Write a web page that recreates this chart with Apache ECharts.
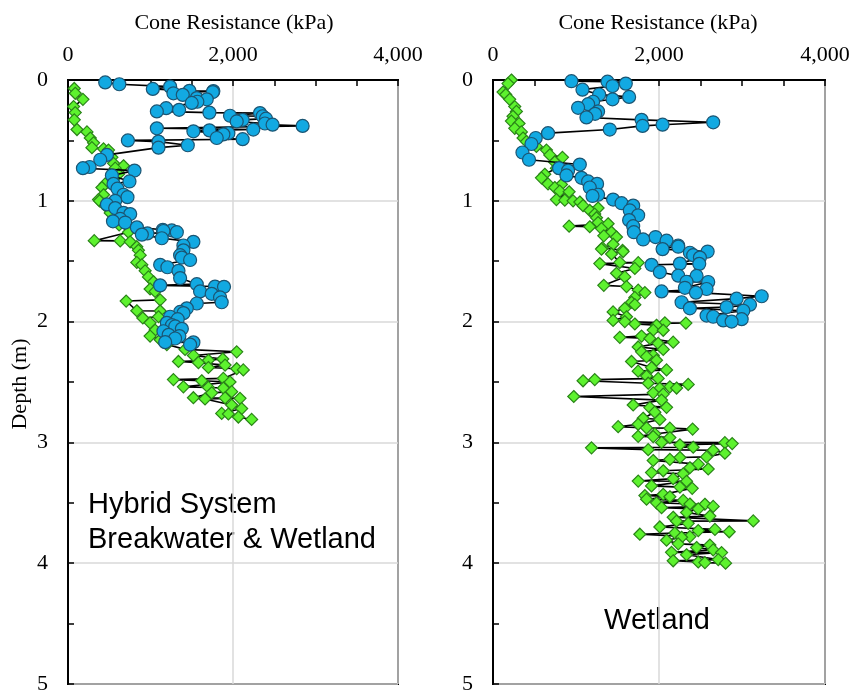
<!DOCTYPE html>
<html>
<head>
<meta charset="utf-8">
<script src="https://cdn.jsdelivr.net/npm/echarts@6/dist/echarts.min.js"></script>
<style>html,body{margin:0;padding:0;background:#fff;}#c{width:853px;height:695px;}</style>
</head>
<body>
<div id="c"></div>
<script>
// ---- data: [cone resistance kPa, depth m] ----
const xTicks = [0, 2000, 4000];
const depthTicks = [0, 1, 2, 3, 4, 5];
const hybridBlue = [
[451,0.02],[622,0.035],[1238,0.055],[1028,0.074],[1472,0.09],[1762,0.092],[1755,0.10],[1278,0.11],[1391,0.123],[1561,0.15],[1682,0.16],[1568,0.18],[1500,0.19],
[1190,0.233],[1347,0.247],[1077,0.26],[1714,0.27],[2327,0.274],[1964,0.296],[2360,0.30],[2400,0.32],[2117,0.33],[2045,0.343],[2387,0.36],[2480,0.37],[2844,0.38],
[1077,0.40],[2246,0.41],[1714,0.417],[1520,0.425],[1944,0.44],[1883,0.45],[1803,0.48],[2117,0.49],[726,0.50],[1097,0.51],[1452,0.54],[1097,0.56],
[472,0.62],[391,0.66],[262,0.72],[181,0.73],[806,0.75],[532,0.79],[745,0.84],[552,0.86],[600,0.90],[673,0.95],[721,0.97],[572,1.0],[472,1.03],[572,1.06],
[673,1.10],[754,1.11],[633,1.15],[545,1.17],[693,1.18],[835,1.22],[1149,1.24],[1258,1.245],[1157,1.25],[1319,1.26],[963,1.27],[895,1.28],[1137,1.31],[1520,1.34],
[1399,1.37],[1399,1.41],[1359,1.45],[1379,1.47],[1480,1.49],[1117,1.53],[1205,1.55],[1339,1.58],[1359,1.64],[1561,1.69],[1117,1.70],[1782,1.71],[1891,1.712],
[1601,1.75],[1742,1.77],[1843,1.80],[1863,1.84],[1561,1.85],[1440,1.89],[1359,1.92],[1400,1.93],[1238,1.96],[1330,1.98],[1198,2.01],[1260,2.03],[1300,2.04],
[1380,2.06],[1157,2.08],[1220,2.11],[1350,2.12],[1298,2.14],[1178,2.17],[1520,2.172],[1480,2.19]
];
const hybridGreen = [
[76,0.07],[88,0.11],[181,0.16],[68,0.22],[88,0.27],[76,0.33],[109,0.41],[230,0.43],[270,0.48],[310,0.52],[290,0.56],[431,0.57],[491,0.58],[532,0.64],[552,0.69],
[673,0.71],[572,0.73],[612,0.78],[451,0.86],[411,0.89],[431,0.95],[370,0.99],[382,1.0],[450,1.04],[512,1.10],[560,1.15],[620,1.20],[733,1.26],[318,1.33],[633,1.332],
[754,1.34],[834,1.38],[854,1.41],[875,1.45],[834,1.51],[895,1.53],[935,1.58],[975,1.63],[1036,1.67],[995,1.73],[1056,1.75],[1117,1.82],[705,1.83],[834,1.91],
[1117,1.912],[1097,1.96],[907,1.97],[995,2.01],[1056,2.07],[995,2.12],[1117,2.15],[1198,2.19],[1419,2.23],[2045,2.25],[1520,2.28],[1876,2.31],[1702,2.32],[1339,2.33],
[1581,2.34],[1904,2.36],[1702,2.38],[2045,2.39],[2125,2.40],[1883,2.47],[1278,2.48],[1621,2.49],[1964,2.50],[1399,2.54],[1702,2.545],[1883,2.55],[1984,2.58],
[1742,2.59],[1520,2.63],[1904,2.632],[2085,2.635],[1661,2.64],[1984,2.69],[2105,2.72],[1863,2.76],[1944,2.765],[2065,2.79],[2226,2.81]
];
const wetlandBlue = [
[945,0.01],[1380,0.014],[1600,0.03],[1440,0.05],[1078,0.08],[1279,0.12],[1640,0.14],[1440,0.16],[1206,0.18],[1146,0.20],[1025,0.23],[1266,0.26],[1230,0.28],[1126,0.31],
[1790,0.33],[2653,0.35],[2043,0.37],[1802,0.38],[1407,0.41],[663,0.44],[515,0.48],[463,0.53],[355,0.60],[434,0.66],[1046,0.70],[796,0.73],[905,0.75],[885,0.79],
[1066,0.81],[1146,0.84],[1254,0.86],[1166,0.89],[1266,0.95],[1199,0.96],[1447,0.99],[1549,1.02],[1689,1.04],[1648,1.08],[1749,1.12],[1640,1.16],[1689,1.21],
[1697,1.26],[1958,1.30],[1809,1.32],[2091,1.33],[2231,1.37],[2232,1.38],[2043,1.40],[2586,1.42],[2372,1.43],[2412,1.45],[2493,1.47],[2252,1.52],[2485,1.522],
[1910,1.53],[2010,1.59],[2232,1.62],[2453,1.622],[2332,1.67],[2593,1.672],[2312,1.72],[2573,1.73],[2031,1.75],[2445,1.76],[3237,1.79],[2935,1.81],[2272,1.84],
[3096,1.86],[2815,1.88],[2372,1.89],[3016,1.91],[2573,1.95],[2653,1.96],[2996,1.98],[2774,1.99],[2875,2.0]
];
const wetlandGreen = [
[222,0.0],[181,0.03],[121,0.10],[153,0.12],[201,0.16],[262,0.22],[282,0.26],[241,0.30],[222,0.34],[314,0.36],[262,0.40],[342,0.43],[362,0.48],[403,0.51],[523,0.55],
[644,0.58],[684,0.62],[837,0.64],[744,0.68],[764,0.73],[624,0.78],[584,0.81],[663,0.86],[825,0.865],[744,0.89],[804,0.92],[917,0.925],[764,0.99],[865,0.995],[965,1.0],
[1046,1.01],[1085,1.04],[1266,1.06],[1166,1.08],[1226,1.11],[1247,1.14],[1266,1.18],[1387,1.19],[917,1.21],[1166,1.215],[1307,1.23],[1428,1.26],[1335,1.29],[1488,1.30],
[1447,1.36],[1319,1.39],[1307,1.40],[1561,1.41],[1568,1.42],[1428,1.44],[1528,1.51],[1750,1.512],[1287,1.52],[1709,1.56],[1488,1.60],[1588,1.63],[1335,1.70],[1609,1.71],
[1750,1.74],[1830,1.76],[1709,1.80],[1669,1.84],[1709,1.86],[1588,1.89],[1447,1.92],[1609,1.96],
[1447,1.99],[1588,2.0],[2071,2.01],[2324,2.012],[1709,2.02],[1970,2.03],[1930,2.07],[2051,2.072],[1790,2.12],[1528,2.13],[1890,2.14],[2171,2.17],[1990,2.18],[1749,2.21],
[2051,2.23],[1790,2.25],[1930,2.28],[1850,2.29],[1970,2.32],[1669,2.33],[1910,2.38],[2091,2.40],[1749,2.41],[1850,2.45],[1990,2.47],[1226,2.48],[1085,2.49],[1870,2.51],
[2352,2.52],[2131,2.54],[2212,2.55],[2010,2.552],[1930,2.59],[2051,2.60],[973,2.62],[2031,2.65],[1689,2.69],[2091,2.71],[1890,2.712],[1950,2.75],[1809,2.80],[2010,2.81],
[1749,2.85],[1508,2.87],[1850,2.88],[2131,2.882],[2405,2.89],[1950,2.93],[1749,2.95],[1930,2.952],[2131,2.96],
[2031,3.00],[2794,3.002],[2882,3.01],[2252,3.02],[2412,3.04],[1187,3.045],[1870,3.06],[2653,3.065],[2794,3.09],[2573,3.12],[2252,3.125],[2131,3.14],[1930,3.15],[2473,3.18],
[2372,3.21],[2593,3.22],[2051,3.235],[1910,3.25],[2292,3.26],[2171,3.30],[1750,3.32],[2332,3.322],[1910,3.36],[2252,3.37],[2400,3.38],[2051,3.43],[1830,3.44],[2131,3.45],
[1850,3.47],[2292,3.48],[1970,3.50],[2372,3.51],[2553,3.512],[2653,3.53],[2031,3.54],[2473,3.55],[2332,3.58],[2613,3.61],[2171,3.62],[3136,3.65],[2212,3.652],[2352,3.67],
[2010,3.70],[2674,3.72],[2473,3.73],[2846,3.74],[2191,3.75],[1769,3.76],[2372,3.78],[2272,3.785],[2091,3.81],[2232,3.84],[2613,3.85],[2453,3.87],[2653,3.89],
[2151,3.91],[2754,3.912],[2332,3.93],[2714,3.97],[2171,3.98],[2473,3.99],[2553,3.995],[2802,4.0]
];
const xTitle = 'Cone Resistance (kPa)';
const yTitle = 'Depth (m)';

const byDepth = a => a.slice().sort((p, q) => p[1] - q[1]);
const SERIF = '"Liberation Serif","Times New Roman",serif';
const SANS = '"Liberation Sans",Arial,sans-serif';

function xAxis(i) {
  return {
    gridIndex: i, type: 'value', position: 'top', min: 0, max: 4000, interval: 2000,
    axisLine: { show: true, onZero: false, lineStyle: { color: '#000', width: 2 } },
    axisTick: { show: true, inside: true, length: 6, lineStyle: { color: '#000', width: 1.5 } },
    minorTick: { show: true, splitNumber: 4, length: 6, lineStyle: { color: '#000', width: 1.5 } },
    axisLabel: { color: '#000', fontFamily: SERIF, fontSize: 22, margin: 14,
      formatter: v => xTicks.indexOf(v) >= 0 ? v.toLocaleString('en-US') : '' },
    splitLine: { show: true, lineStyle: { color: '#d9d9d9', width: 1.5 } }
  };
}
function yAxis(i) {
  return {
    gridIndex: i, type: 'value', inverse: true, min: 0, max: 5, interval: 1,
    axisLine: { show: true, onZero: false, lineStyle: { color: '#000', width: 2 } },
    axisTick: { show: true, inside: true, length: 6, lineStyle: { color: '#000', width: 1.5 } },
    minorTick: { show: true, splitNumber: 2, length: 6, lineStyle: { color: '#000', width: 1.5 } },
    axisLabel: { color: '#000', fontFamily: SERIF, fontSize: 22, margin: 20,
      formatter: v => depthTicks.indexOf(v) >= 0 ? String(v) : '' },
    splitLine: { show: true, lineStyle: { color: '#d9d9d9', width: 1.5 } }
  };
}
const blueItem = { color: '#12A9E2', borderColor: '#1B5573', borderWidth: 1.2 };
const greenItem = { color: '#5DF22E', borderColor: '#2A8418', borderWidth: 1.2 };
function ser(data, i, sym, item, z) {
  return {
    type: 'line', xAxisIndex: i, yAxisIndex: i, data: byDepth(data),
    symbol: sym, symbolSize: sym === 'circle' ? 13 : 12, showAllSymbol: true,
    lineStyle: { color: '#000', width: 1.6 }, itemStyle: item, z: z,
    animation: false, silent: true, clip: false
  };
}
const chart = echarts.init(document.getElementById('c'), null, { renderer: 'canvas' });
chart.setOption({
  backgroundColor: '#fff',
  animation: false,
  grid: [
    { left: 68, top: 80, width: 330, height: 608, show: true, borderColor: '#000', borderWidth: 2, backgroundColor: 'transparent' },
    { left: 493, top: 80, width: 332, height: 608, show: true, borderColor: '#000', borderWidth: 2, backgroundColor: 'transparent' }
  ],
  xAxis: [xAxis(0), xAxis(1)],
  yAxis: [yAxis(0), yAxis(1)],
  series: [
    ser(hybridGreen, 0, 'diamond', greenItem, 2),
    ser(hybridBlue, 0, 'circle', blueItem, 3),
    ser(wetlandGreen, 1, 'diamond', greenItem, 2),
    ser(wetlandBlue, 1, 'circle', blueItem, 3)
  ],
  graphic: [
    { type: 'text', x: 234, y: 23, style: { text: xTitle, font: '22px ' + SERIF, fill: '#000', textAlign: 'center', textVerticalAlign: 'middle' } },
    { type: 'text', x: 658, y: 23, style: { text: xTitle, font: '22px ' + SERIF, fill: '#000', textAlign: 'center', textVerticalAlign: 'middle' } },
    { type: 'text', x: 20, y: 384, rotation: Math.PI / 2, style: { text: yTitle, font: '22px ' + SERIF, fill: '#000', textAlign: 'center', textVerticalAlign: 'middle' } },
    { type: 'text', x: 88, y: 505, style: { text: 'Hybrid System', font: '29px ' + SANS, fill: '#000', textAlign: 'left', textVerticalAlign: 'middle' } },
    { type: 'text', x: 88, y: 540, style: { text: 'Breakwater & Wetland', font: '29px ' + SANS, fill: '#000', textAlign: 'left', textVerticalAlign: 'middle' } },
    { type: 'text', x: 657, y: 621, style: { text: 'Wetland', font: '29px ' + SANS, fill: '#000', textAlign: 'center', textVerticalAlign: 'middle' } }
  ]
});
</script>
</body>
</html>
